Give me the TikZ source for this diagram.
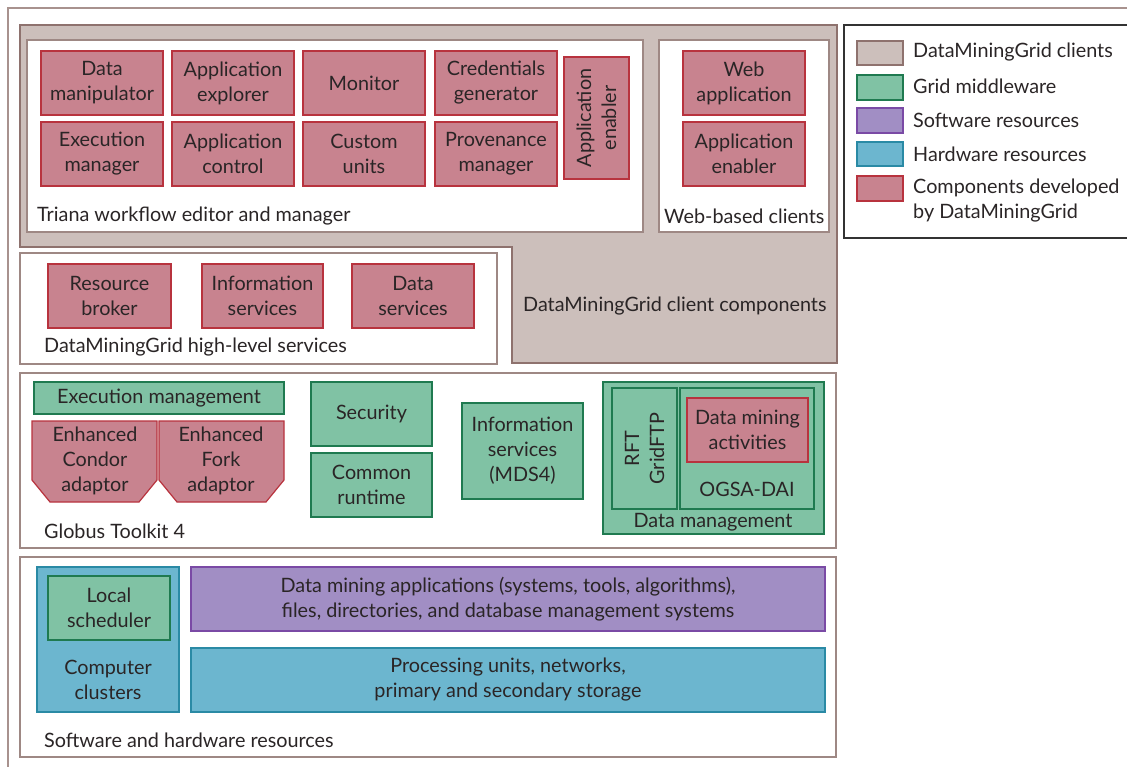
\documentclass[tikz,border=0pt]{standalone}
\usepackage{fontspec}
\setmainfont{Lato}
\definecolor{txt}{HTML}{2A2526}
\definecolor{frameC}{HTML}{A8928E}
\definecolor{clientF}{HTML}{CCBFBB}
\definecolor{clientB}{HTML}{8E726E}
\definecolor{pinkF}{HTML}{C8838F}
\definecolor{pinkB}{HTML}{B8333E}
\definecolor{greenF}{HTML}{80C2A4}
\definecolor{greenB}{HTML}{1F7A50}
\definecolor{purpF}{HTML}{A18EC4}
\definecolor{purpB}{HTML}{7A4AA5}
\definecolor{blueF}{HTML}{6CB6CF}
\definecolor{blueB}{HTML}{2A8AA5}
\definecolor{whiteB}{HTML}{9E8884}
\tikzset{
  every node/.style={text=txt, font=\fontsize{19.8}{25}\selectfont},
  base/.style={line width=1.2pt, inner sep=0pt, align=center},
  pinkbox/.style={base, draw=pinkB, fill=pinkF},
  greenbox/.style={base, draw=greenB, fill=greenF},
  purpbox/.style={base, draw=purpB, fill=purpF},
  bluebox/.style={base, draw=blueB, fill=blueF},
  greybox/.style={base, draw=clientB, fill=clientF},
  whitebox/.style={base, draw=whiteB, fill=white},
  lbl/.style={anchor=west, inner sep=0pt},
}
\newcommand\bx[7]{\node[#1, minimum width={#5-#3}, minimum height={#6-#4}] (#2) at ({(#3+#5)/2},{(#4+#6)/2}) {#7};}
\begin{document}
\begin{tikzpicture}[x=1pt,y=-1pt]
\useasboundingbox (0,0) rectangle (1127,767);
% outer frame
\coordinate (fA) at (8,767);
\coordinate (fB) at (8,8);
\coordinate (fC) at (1127,8);
\draw[frameC, line width=1.2pt] (fA) -- (fB) -- (fC);
% client area (L-shape)
\draw[clientB, fill=clientF, line width=1.5pt] (20,25) -- (837,25) -- (837,363) -- (512,363) -- (512,247) -- (20,247) -- cycle;
\bx{whitebox}{triana}{27}{40}{643}{232}{}
\bx{whitebox}{webc}{659}{40}{829}{232}{}
\bx{pinkbox}{dm}{41}{51}{163}{115}{Data\\manipulator}
\bx{pinkbox}{ae}{172}{51}{294}{115}{Application\\explorer}
\bx{pinkbox}{mon}{303}{51}{425}{115}{Monitor}
\bx{pinkbox}{cg}{435}{51}{557}{115}{Credentials\\generator}
\bx{pinkbox}{em}{41}{122}{163}{186}{Execution\\manager}
\bx{pinkbox}{ac}{172}{122}{294}{186}{Application\\control}
\bx{pinkbox}{cu}{303}{122}{425}{186}{Custom\\units}
\bx{pinkbox}{pm}{435}{122}{557}{186}{Provenance\\manager}
\node[pinkbox, minimum width=122, minimum height=65, rotate=90] (aen) at (596.5,118) {Application\\enabler};
\bx{pinkbox}{wapp}{683}{51}{805}{115}{Web\\application}
\bx{pinkbox}{wae}{683}{122}{805}{186}{Application\\enabler}
\node[lbl] (trianaL) at (37,216) {Triana workflow editor and manager};
\node[lbl] (webL) at (664,216) {Web-based clients};
\node[lbl] (clientL) at (523,306) {DataMiningGrid client components};
% high-level services
\bx{whitebox}{hls}{20}{253}{497}{364}{}
\bx{pinkbox}{rb}{48}{264}{171}{328}{Resource\\broker}
\bx{pinkbox}{is}{202}{264}{323}{328}{Information\\services}
\bx{pinkbox}{ds}{352}{264}{474}{328}{Data\\services}
\node[lbl] (hlsL) at (44,347) {DataMiningGrid high-level services};
% Globus
\bx{whitebox}{gt}{20}{373}{836}{548}{}
\bx{greenbox}{exm}{34}{382}{284}{414}{Execution management}
\draw[pinkB, fill=pinkF, line width=1.2pt] (32,421) -- (157,421) -- (157,480) -- (139,502) -- (50,502) -- (32,480) -- cycle;
\node[align=center, inner sep=0pt] (condor) at (95,461) {Enhanced\\Condor\\adaptor};
\draw[pinkB, fill=pinkF, line width=1.2pt] (159,421) -- (284,421) -- (284,480) -- (266,502) -- (177,502) -- (159,480) -- cycle;
\node[align=center, inner sep=0pt] (fork) at (221,461) {Enhanced\\Fork\\adaptor};
\bx{greenbox}{sec}{311}{382}{432}{446}{Security}
\bx{greenbox}{cr}{311}{453}{432}{517}{Common\\runtime}
\bx{greenbox}{mds}{462}{403}{583}{499}{Information\\services\\(MDS4)}
\node[lbl] (gtL) at (44,531) {Globus Toolkit 4};
\bx{greenbox}{dmg}{603}{382}{824}{534}{}
\node[greenbox, minimum width=121, minimum height=65, rotate=90] (rft) at (644.5,448.5) {RFT\\GridFTP};
\bx{greenbox}{ogsa}{680}{388}{814}{509}{}
\bx{pinkbox}{dma}{687}{398}{808}{462}{Data mining\\activities}
\node (ogsaL) at (747,489) {OGSA-DAI};
\node (dmgL) at (713,522) {Data management};
% software and hardware
\bx{whitebox}{shw}{20}{557}{836}{757}{}
\bx{bluebox}{cc}{37}{567}{179}{712}{}
\bx{greenbox}{ls}{48}{576}{170}{640}{Local\\scheduler}
\node[align=center, inner sep=0pt] (ccL) at (108,680) {Computer\\clusters};
\bx{purpbox}{sw}{191}{567}{825}{631}{Data mining applications (systems, tools, algorithms),\\files, directories, and database management systems}
\bx{bluebox}{hw}{191}{648}{825}{712}{Processing units, networks,\\primary and secondary storage}
\node[lbl] (shwL) at (44,740) {Software and hardware resources};
% legend
\coordinate (lA) at (1127,25);
\coordinate (lB) at (844,25);
\coordinate (lC) at (844,238);
\coordinate (lD) at (1127,238);
\draw[black!80, line width=1.2pt] (lA) -- (lB) -- (lC) -- (lD);
\bx{greybox}{k1}{857}{41}{903}{65}{}
\bx{greenbox}{k2}{857}{75}{903}{100}{}
\bx{purpbox}{k3}{857}{108}{903}{133}{}
\bx{bluebox}{k4}{857}{142}{903}{166}{}
\bx{pinkbox}{k5}{857}{176}{903}{201}{}
\node[lbl] (t1) at (913,52) {DataMiningGrid clients};
\node[lbl] (t2) at (913,86) {Grid middleware};
\node[lbl] (t3) at (913,120) {Software resources};
\node[lbl] (t4) at (913,154) {Hardware resources};
\node[lbl, align=left] (t5) at (913,201) {Components developed\\by DataMiningGrid};
\end{tikzpicture}
\end{document}
